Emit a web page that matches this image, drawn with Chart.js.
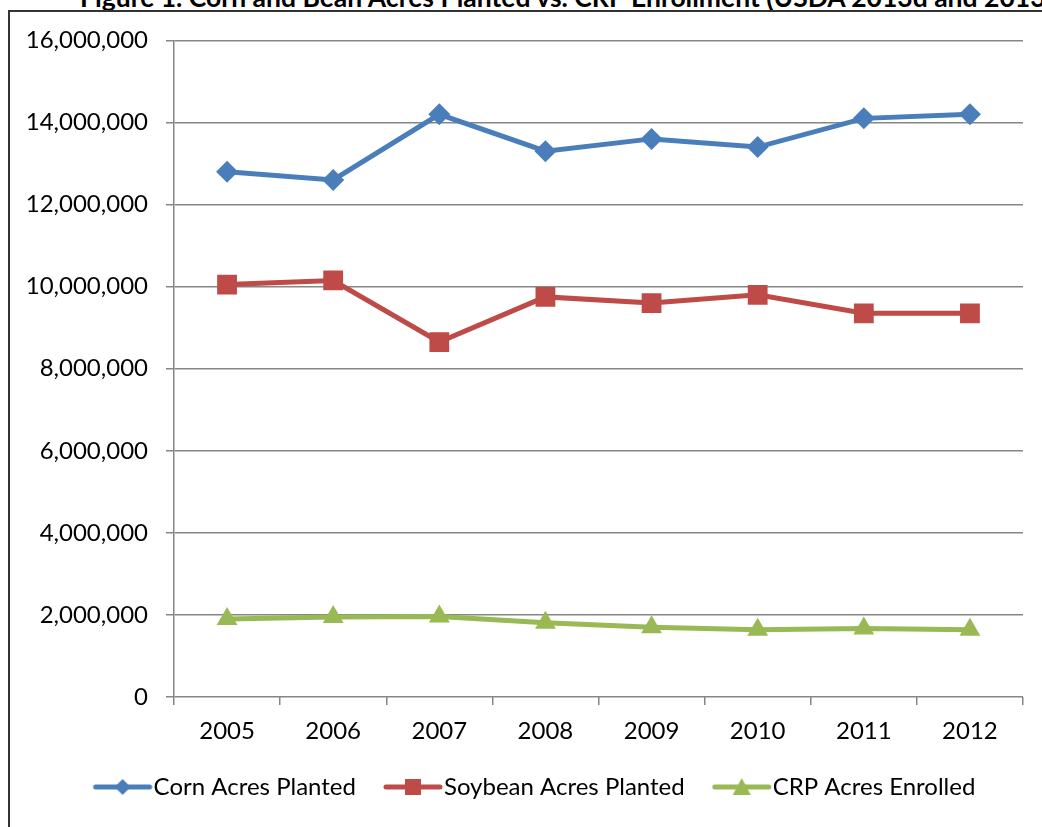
<!DOCTYPE html>
<html>
<head>
<meta charset="utf-8">
<script src="https://cdn.jsdelivr.net/npm/chart.js@4.4.1/dist/chart.umd.min.js"></script>
<style>
  html, body { margin: 0; padding: 0; background: #fff; }
  body { width: 1042px; height: 827px; position: relative; overflow: hidden; }
  .title-clip { position: absolute; left: 0; top: 0; width: 1042px; height: 10px; overflow: hidden; }
  .title-clip span {
    position: absolute; left: 80px; top: -19px; white-space: nowrap;
    font: bold 26.5px Lato, sans-serif; color: #000;
  }
  .frame {
    position: absolute; left: 8px; top: 10px; width: 1040px; height: 815px;
    border-top: 2px solid #333; border-left: 2px solid #333; border-bottom: 1px solid #ccc;
  }
  .chart-box { position: absolute; left: 10px; top: 8px; width: 1032px; height: 817px; }
</style>
</head>
<body>
<div class="title-clip"><span>Figure 1. Corn and Bean Acres Planted vs. CRP Enrollment (USDA 2013d and 2013e)</span></div>
<div class="frame"></div>
<div class="chart-box"><canvas id="chart"></canvas></div>
<script>
const years = ['2005', '2006', '2007', '2008', '2009', '2010', '2011', '2012'];
const cornAcres = [12800000, 12600000, 14200000, 13300000, 13600000, 13400000, 14100000, 14200000];
const soybeanAcres = [10050000, 10150000, 8650000, 9750000, 9600000, 9800000, 9350000, 9350000];
const crpAcres = [1900000, 1950000, 1960000, 1810000, 1700000, 1640000, 1670000, 1640000];

const blue = '#4a7ebb';
const red = '#be4b48';
const green = '#98b954';
const font = 'Lato, "Open Sans", sans-serif';

// legend picture: line with marker; the canvas is wider than the legend box,
// so the line runs right up to the label text like in the original
function legendIcon(color, shape) {
  const c = document.createElement('canvas');
  c.width = 80;
  c.height = 22;
  const ctx = c.getContext('2d');
  ctx.strokeStyle = color;
  ctx.fillStyle = color;
  ctx.lineWidth = 5;
  ctx.lineCap = 'round';
  ctx.beginPath();
  ctx.moveTo(18, 11);
  ctx.lineTo(72, 11);
  ctx.stroke();
  const m = 45;
  ctx.beginPath();
  if (shape === 'diamond') {
    ctx.moveTo(m, 3); ctx.lineTo(m + 8, 11); ctx.lineTo(m, 19); ctx.lineTo(m - 8, 11);
  } else if (shape === 'square') {
    ctx.rect(m - 8, 3, 16, 16);
  } else {
    ctx.moveTo(m, 2); ctx.lineTo(m + 9, 19); ctx.lineTo(m - 9, 19);
  }
  ctx.closePath();
  ctx.fill();
  return c;
}

const icons = [legendIcon(blue, 'diamond'), legendIcon(red, 'square'), legendIcon(green, 'triangle')];

// the original legend sits a bit right of the canvas centre
const legendShift = {
  id: 'legendShift',
  afterLayout(chart) {
    chart.legend.left += 18;
    chart.legend.right += 18;
  }
};

function series(label, data, color, pointStyle, radius) {
  return {
    label,
    data,
    borderColor: color,
    backgroundColor: color,
    borderWidth: 5,
    pointStyle,
    pointRadius: radius,
    pointHoverRadius: radius,
    pointBorderWidth: 0,
    tension: 0
  };
}

new Chart(document.getElementById('chart'), {
  type: 'line',
  data: {
    labels: years,
    datasets: [
      series('Corn Acres Planted', cornAcres, blue, 'rectRot', 11),
      series('Soybean Acres Planted', soybeanAcres, red, 'rect', 14),
      series('CRP Acres Enrolled', crpAcres, green, 'triangle', 12)
    ]
  },
  plugins: [legendShift],
  options: {
    responsive: true,
    maintainAspectRatio: false,
    animation: false,
    layout: { padding: { left: 0, right: 19, top: 22, bottom: 16 } },
    plugins: {
      tooltip: { enabled: false },
      legend: {
        position: 'bottom',
        labels: {
          usePointStyle: true,
          pointStyleWidth: 48,
          padding: 28,
          color: '#000',
          font: { family: font, size: 24 },
          generateLabels(chart) {
            return chart.data.datasets.map((ds, i) => ({
              text: ds.label,
              pointStyle: icons[i],
              fillStyle: ds.borderColor,
              strokeStyle: ds.borderColor,
              lineWidth: 0,
              hidden: false,
              datasetIndex: i,
              fontColor: '#000'
            }));
          }
        }
      }
    },
    scales: {
      x: {
        offset: true,
        grid: {
          offset: true,
          drawOnChartArea: false,
          drawTicks: true,
          tickLength: 8,
          color: '#868686',
          lineWidth: 1.5
        },
        border: { display: false },
        ticks: { color: '#000', padding: 12, font: { family: font, size: 24 } },
        afterFit(scale) { scale.height = 50; }
      },
      y: {
        min: 0,
        max: 16000000,
        grid: { color: '#868686', lineWidth: 1.5, tickLength: 8 },
        border: { color: '#868686', width: 1.5 },
        ticks: {
          stepSize: 2000000,
          color: '#000',
          padding: 18,
          font: { family: font, size: 24 },
          callback: v => v.toLocaleString('en-US')
        },
        afterFit(scale) { scale.width = 164; }
      }
    }
  }
});
</script>
</body>
</html>
